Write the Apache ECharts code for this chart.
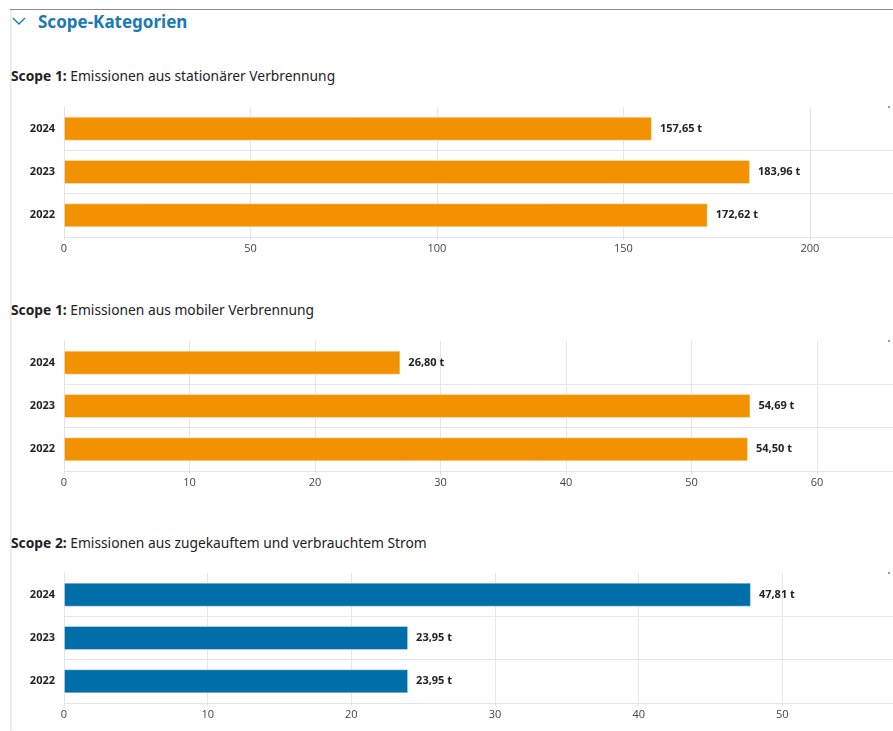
<!DOCTYPE html>
<html>
<head>
<meta charset="utf-8">
<script src="https://cdn.jsdelivr.net/npm/echarts@6/dist/echarts.min.js"></script>
<style>
  body { margin: 0; background: #fff; overflow: hidden; width: 893px; height: 731px; position: relative; font-family: "Noto Sans", "Open Sans", sans-serif; }
  .topline { position: absolute; left: 10px; top: 9px; width: 883px; height: 1px; background: #8c8c8c; }
  .leftshade { position: absolute; left: 10px; top: 10px; width: 3px; height: 721px; background: linear-gradient(to right, #e4e4e4, #fff); }
  .head { position: absolute; left: 38px; top: 11px; font-size: 17px; font-weight: 700; color: #1b79b3; line-height: 22px; }
  .chev { position: absolute; left: 12px; top: 16px; }
  .ttl { position: absolute; left: 11px; font-size: 13.8px; color: #222; line-height: 18px; }
  .ttl b { font-weight: 700; }
  .chart { position: absolute; left: 0; width: 893px; height: 170px; }
</style>
</head>
<body>
<div class="topline"></div>
<div class="leftshade"></div>
<svg class="chev" width="14" height="10"><polyline points="1,2 7,8 13,2" fill="none" stroke="#1b79b3" stroke-width="1.4"/></svg>
<div class="head">Scope-Kategorien</div>

<div class="ttl" style="top:67px"><b>Scope 1:</b> Emissionen aus stationärer Verbrennung</div>
<div class="chart" id="c1" style="top:95px"></div>

<div class="ttl" style="top:301px"><b>Scope 1:</b> Emissionen aus mobiler Verbrennung</div>
<div class="chart" id="c2" style="top:329px"></div>

<div class="ttl" style="top:534px"><b>Scope 2:</b> Emissionen aus zugekauftem und verbrauchtem Strom</div>
<div class="chart" id="c3" style="top:561px"></div>

<script>
// Jahre (oben nach unten)
var years = ['2024', '2023', '2022']

// Werte in t CO2e
var stationaer = [157.65, 183.96, 172.62]
var mobil = [26.80, 54.69, 54.50]
var strom = [47.81, 23.95, 23.95]

function fmt (v) {
  return v.toFixed(2).replace('.', ',') + ' t'
}

function drawChart (id, values, color, axisMax, step) {
  var chart = echarts.init(document.getElementById(id))
  chart.setOption({
    animation: false,
    grid: { left: 64, right: 0, top: 12, height: 130 },
    graphic: [{ type: 'rect', right: 3, top: 11, shape: { width: 2, height: 2 }, style: { fill: '#999' } }],
    xAxis: {
      type: 'value',
      min: 0,
      max: axisMax,
      interval: step,
      axisLine: { show: true, lineStyle: { color: '#e3e3e3' } },
      axisTick: { show: true, length: 3, lineStyle: { color: '#e3e3e3' } },
      splitLine: { show: true, lineStyle: { color: '#e6e6e6' } },
      axisLabel: { showMaxLabel: false, color: '#444', fontSize: 11, margin: 6, fontFamily: 'Open Sans' }
    },
    yAxis: {
      type: 'category',
      inverse: true,
      data: years,
      axisLine: { show: true, lineStyle: { color: '#e3e3e3' } },
      axisTick: { show: false },
      // keine Linie am oberen Rand
      splitLine: { show: true, interval: function (i) { return i !== 0 }, lineStyle: { color: '#e6e6e6' } },
      axisLabel: { color: '#222', fontSize: 11, fontWeight: 'bold', margin: 9, fontFamily: 'Open Sans' }
    },
    series: [{
      type: 'bar',
      data: values,
      barWidth: 24,
      itemStyle: { color: color, borderColor: 'rgba(255,255,255,0.35)', borderWidth: 1 },
      label: {
        show: true,
        position: 'right',
        distance: 8,
        color: '#222',
        fontSize: 11,
        fontWeight: 'bold',
        fontFamily: 'Open Sans',
        formatter: function (p) { return fmt(p.value) }
      }
    }]
  })
}

drawChart('c1', stationaer, '#f39200', 222.3, 50)
drawChart('c2', mobil, '#f39200', 66.05, 10)
drawChart('c3', strom, '#006ea8', 57.7, 10)
</script>
</body>
</html>
